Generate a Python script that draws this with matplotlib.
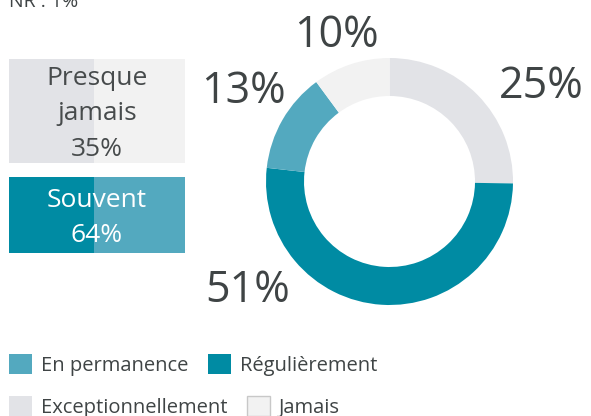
import matplotlib
matplotlib.use("Agg")
import matplotlib.pyplot as plt
from matplotlib.patches import Patch

# ---------------- data ----------------
categories = ["Exceptionnellement", "Régulièrement", "En permanence", "Jamais"]
values = [25, 51, 13, 10]
nr_value = 1
groups = [["Presque", "jamais"], ["Souvent"]]
group_values = [35, 64]
legend_rows = [["En permanence", "Régulièrement"], ["Exceptionnellement", "Jamais"]]

# ---------------- style ----------------
colors = {"Exceptionnellement": "#e2e3e7", "Régulièrement": "#008ba3",
          "En permanence": "#53a9bf", "Jamais": "#f2f2f2"}
box_colors = [("#e2e3e7", "#f2f2f2"), ("#008ba3", "#53a9bf")]
box_text_colors = ["#474b4c", "#ffffff"]
TXT = "#3f4445"
FONT = ["Open Sans", "DejaVu Sans"]
plt.rcParams["font.family"] = FONT

W, H = 591, 416
fig = plt.figure(figsize=(W / 100, H / 100), dpi=100)

# overlay axes in pixel coordinates
ax0 = fig.add_axes([0, 0, 1, 1])
ax0.set_xlim(0, W)
ax0.set_ylim(H, 0)
ax0.axis("off")

# NR text (cut at top, as in the reference)
ax0.text(9, 7, f"NR : {nr_value}%", fontsize=14, color=TXT, ha="left", va="baseline")

# left boxes
box_tops = [59, 177]
box_heights = [104, 76]
bx_left, bx_right = 9, 185
bx_mid = 94
for i, (lines, gv) in enumerate(zip(groups, group_values)):
    yc = box_tops[i] + box_heights[i] / 2
    ax0.barh(yc, bx_mid - bx_left, left=bx_left, height=box_heights[i],
             color=box_colors[i][0], linewidth=0)
    ax0.barh(yc, bx_right - bx_mid, left=bx_mid, height=box_heights[i],
             color=box_colors[i][1], linewidth=0)
    all_lines = lines + [f"{gv}%"]
    n = len(all_lines)
    sp = 35.5
    first = yc - sp * (n - 1) / 2 + 9.5
    for k, ln in enumerate(all_lines):
        ax0.text((bx_left + bx_right) / 2, first + k * sp, ln, fontsize=19,
                 color=box_text_colors[i], ha="center", va="baseline")

# donut
cx, cy, R = 389.5, 181.5, 123.5
aw = 3 * R
ax = fig.add_axes([(cx - aw / 2) / W, (H - cy - aw / 2) / H, aw / W, aw / H])
ax.pie(values, colors=[colors[c] for c in categories], startangle=90,
       counterclock=False, radius=1,
       wedgeprops=dict(width=1 - 85.5 / R, linewidth=0))
ax.set_xlim(-1.5, 1.5)
ax.set_ylim(-1.5, 1.5)
ax.set_aspect("equal")
ax.axis("off")

label_pos = {"Exceptionnellement": (1.227, 0.676), "Régulièrement": (-1.146, -0.976),
             "En permanence": (-1.186, 0.636), "Jamais": (-0.433, 1.089)}
for c, v in zip(categories, values):
    x, y = label_pos[c]
    ax.text(x, y, f"{v}%", fontsize=31, color=TXT, ha="center", va="baseline",
            clip_on=False)

# legends (flow layout rows)
row_anchor = [(9, 354), (9, 396)]
for row, (lx, ly) in zip(legend_rows, row_anchor):
    handles = []
    for c in row:
        ec = "#c8c8c8" if c == "Jamais" else colors[c]
        handles.append(Patch(facecolor=colors[c], edgecolor=ec,
                             linewidth=1 if c == "Jamais" else 0, label=c))
    fig.legend(handles=handles, loc="upper left",
               bbox_to_anchor=(lx / W, 1 - ly / H), ncol=2, frameon=False,
               fontsize=14.5, labelcolor=TXT, borderpad=0, borderaxespad=0,
               handlelength=1.14, handleheight=1.14, handletextpad=0.44,
               columnspacing=0.98)

fig.savefig("out.png", dpi=100)
